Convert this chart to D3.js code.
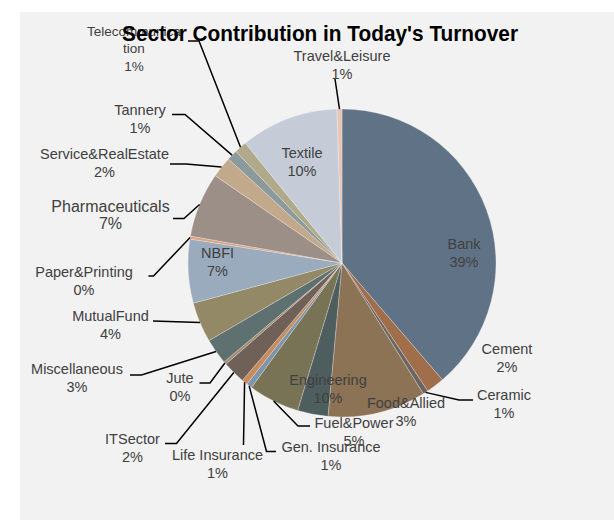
<!DOCTYPE html>
<html>
<head>
<meta charset="utf-8">
<script src="https://cdn.jsdelivr.net/npm/d3@7"></script>
<style>
  html, body { margin: 0; padding: 0; background: #ffffff; }
  text { font-family: "Liberation Sans", Arial, sans-serif; }
</style>
</head>
<body>
<div class="chart"></div>
<script>
// Sectors, in the order the slices run clockwise from 12 o'clock.
const sectors = [
  "Bank", "Cement", "Ceramic", "Engineering", "Food&Allied", "Fuel&Power",
  "Gen. Insurance", "Life Insurance", "ITSector", "Jute", "Miscellaneous",
  "MutualFund", "NBFI", "Paper&Printing", "Pharmaceuticals",
  "Service&RealEstate", "Tannery", "Telecommunication", "Textile", "Travel&Leisure"
];
// Share of today's turnover (percent).
const shares = [
  38.7, 1.9, 0.55, 10.3, 3.2, 5.35,
  0.6, 0.6, 2.4, 0.3, 2.7,
  4.2, 6.7, 0.3, 6.8,
  2.2, 1.1, 1.3, 10.28, 0.52
];
// Slice fills.
const sliceColors = [
  "#607386", "#a16e4c", "#6a6561", "#8c7356", "#4e5d5e", "#797356",
  "#7c95ab", "#c98b5c", "#706158", "#a08a6e", "#5e7070",
  "#938966", "#9aabbd", "#dea283", "#9b8f88",
  "#c3a98c", "#8c9a9c", "#b0aa8a", "#c5ccd8", "#e6c5b5"
];
const title = "Sector Contribution in Today's Turnover";

// Where each data label sits (centre of first line) and the bends of its leader line.
const labelLayout = {
  "Bank": { x: 464, y: 244 },
  "Cement": { x: 507, y: 349 },
  "Ceramic": { x: 504, y: 395, leader: [[459, 400], [473, 400]] },
  "Engineering": { x: 328, y: 380 },
  "Food&Allied": { x: 406, y: 403 },
  "Fuel&Power": { x: 354, y: 423, leader: [[298, 426], [310, 426]] },
  "Gen. Insurance": { x: 331, y: 447, leader: [[266.5, 451.5], [276, 451.5]] },
  "Life Insurance": { x: 217.5, y: 455, leader: [[243.5, 445]] },
  "ITSector": { x: 132.5, y: 439, leader: [[176.5, 443.5], [165, 443.5]] },
  "Jute": { x: 180, y: 378, leader: [[210, 383], [199.5, 383]] },
  "Miscellaneous": { x: 77, y: 369, leader: [[141.5, 375], [130, 375]] },
  "MutualFund": { x: 110.5, y: 316, leader: [[153, 321]] },
  "NBFI": { x: 217.5, y: 253 },
  "Paper&Printing": { x: 84, y: 272, leader: [[153.5, 276], [148.5, 276]] },
  "Pharmaceuticals": { x: 110.5, y: 206, size: 16, leader: [[184, 218.5], [173, 218.5]] },
  "Service&RealEstate": { x: 104.5, y: 154, leader: [[186, 164], [170, 164]] },
  "Tannery": { x: 140, y: 110, leader: [[185, 114.5], [172, 114.5]] },
  "Telecommunication": { x: 134, y: 31, size: 13.5, lines: ["Telecommunica", "tion"], leader: [[199, 41], [188, 41]] },
  "Textile": { x: 302, y: 153 },
  "Travel&Leisure": { x: 342, y: 56, leader: [[335, 79]] }
};

const width = 614, height = 520;
const panel = { x: 20, y: 12 };
const cx = 342, cy = 263, radius = 154;
const lineGap = 17.5;

const svg = d3.select(".chart").append("svg")
  .attr("width", width)
  .attr("height", height);

// Grey chart area.
svg.append("rect")
  .attr("x", panel.x)
  .attr("y", panel.y)
  .attr("width", width - panel.x)
  .attr("height", height - panel.y)
  .attr("fill", "#f2f2f2");

const data = sectors.map((name, i) => ({ name, value: shares[i], color: sliceColors[i] }));
const total = d3.sum(shares);
const pct = d3.format(".0%");

const pie = d3.pie()
  .sort(null)
  .value(d => d.value);
const arcs = pie(data);

const arc = d3.arc()
  .innerRadius(0)
  .outerRadius(radius);

const pieGroup = svg.append("g")
  .attr("transform", `translate(${cx},${cy})`);

pieGroup.selectAll("path")
  .data(arcs)
  .enter()
  .append("path")
  .attr("d", arc)
  .attr("fill", d => d.data.color)
  .attr("stroke", "#ffffff")
  .attr("stroke-opacity", 0.35)
  .attr("stroke-width", 0.75);

// Point on the rim in the middle of a slice, in page coordinates.
function rimPoint(d) {
  const a = (d.startAngle + d.endAngle) / 2;
  return [cx + radius * Math.sin(a), cy - radius * Math.cos(a)];
}

// Leader lines go from the slice rim through the bends to the label.
const line = d3.line();
arcs.forEach(d => {
  const lay = labelLayout[d.data.name];
  if (!lay.leader) return;
  svg.append("path")
    .attr("d", line([rimPoint(d), ...lay.leader]))
    .attr("fill", "none")
    .attr("stroke", "#000000")
    .attr("stroke-width", 1.5);
});

// Data labels: name (maybe wrapped) and rounded percent.
arcs.forEach(d => {
  const lay = labelLayout[d.data.name];
  const lines = (lay.lines || [d.data.name]).concat(pct(d.data.value / total));
  const t = svg.append("text")
    .attr("text-anchor", "middle")
    .attr("font-size", (lay.size || 14.5) + "px")
    .attr("fill", "#404040");
  lines.forEach((s, i) => {
    t.append("tspan")
      .attr("x", lay.x)
      .attr("y", lay.y + i * lineGap)
      .attr("dy", "0.35em")
      .text(s);
  });
});

// Title on top.
svg.append("text")
  .attr("x", 320)
  .attr("y", 41)
  .attr("text-anchor", "middle")
  .attr("font-size", "22px")
  .attr("font-weight", "bold")
  .attr("fill", "#000000")
  .attr("textLength", 396)
  .attr("lengthAdjust", "spacingAndGlyphs")
  .text(title);
</script>
</body>
</html>
